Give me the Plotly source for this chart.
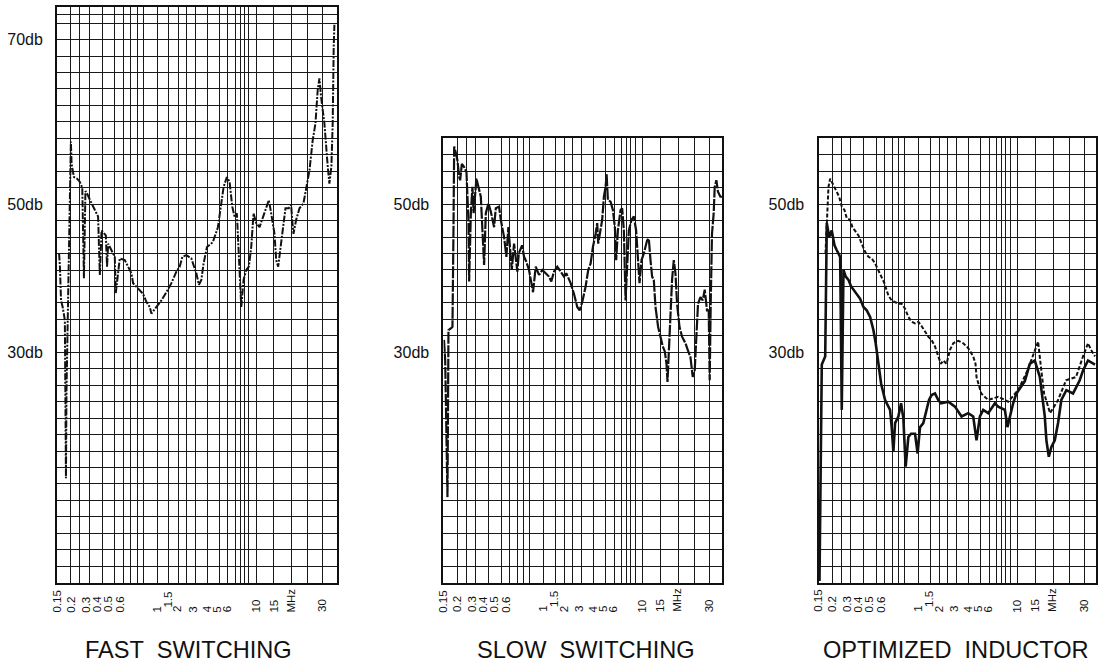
import numpy as np
import plotly.graph_objects as go

# ---------------- graph-paper frequency scale (MHz -> position) ----------------
KNOT_F = [0.15, 0.2, 0.25, 0.3, 0.4, 0.5, 0.6, 0.7, 0.8, 0.9, 1, 1.5, 2, 2.5, 3, 4, 5, 6,
          7, 8, 9, 9.5, 10, 15, 20, 25, 30, 35]
KNOT_POS = [0, 13.7, 22.7, 32, 45.4, 57.7, 66, 73.7, 80, 86, 100.4, 112, 121.7, 129.4, 138.4,
            150.4, 162.7, 171, 178.4, 183.4, 187.7, 192, 199.4, 217, 235, 251, 266, 280]


def to_pos(f):
    return np.interp(np.asarray(f, dtype=float), KNOT_F, KNOT_POS)


# ---------------- data (MHz, dB) ----------------
fast_f = [0.157, 0.160, 0.164, 0.170, 0.178, 0.182, 0.184, 0.190, 0.194, 0.199,
          0.200, 0.204, 0.217, 0.235, 0.250, 0.263, 0.272, 0.280, 0.289, 0.318,
          0.343, 0.367, 0.380, 0.393, 0.427, 0.437, 0.446, 0.459, 0.500, 0.512,
          0.560, 0.622, 0.665, 0.711, 0.737, 0.790, 0.900, 0.924, 0.947, 0.958,
          0.993, 1.172, 1.388, 1.624, 1.881, 2.065, 2.24, 2.5, 2.778, 3.083,
          3.3, 3.5, 3.69, 3.97, 4.455, 4.862, 5.205, 5.482, 5.88, 6.23,
          6.595, 6.905, 7.32, 7.72, 8.233, 8.767, 9.198, 9.5, 9.662, 9.818,
          10.0, 10.94, 12.36, 13.58, 14.26, 15.19, 15.67, 16.22, 16.78, 17.5,
          18.25, 19.17, 19.83, 20.13, 20.53, 21.38, 22.41, 23.66, 24.5, 25.57,
          26.67, 27.57, 28.33, 28.9, 29.47, 30.61, 31.79, 32.39, 33.11, 33.57,
          33.93, 34.18]
fast_db = [44.0, 42.4, 38.3, 37.5, 35.9, 16.7, 27.4, 37.6, 46.5, 55.3,
           57.6, 54.9, 53.3, 53.1, 52.7, 52.0, 41.0, 51.6, 51.3, 50.1,
           49.3, 48.5, 41.4, 46.8, 46.2, 42.4, 45.2, 44.8, 43.6, 39.2,
           43.4, 43.2, 42.4, 41.6, 40.4, 40.0, 39.1, 38.1, 37.5, 36.7,
           37.5, 38.3, 39.3, 40.4, 41.8, 42.4, 43.6, 43.8, 43.4, 41.6,
           40.2, 40.8, 42.8, 44.8, 45.4, 47.2, 50.1, 52.1, 53.3, 52.7,
           49.7, 48.5, 48.9, 44.0, 37.5, 40.8, 42.0, 42.4, 44.8, 48.9,
           47.7, 47.2, 48.9, 50.5, 48.9, 46.4, 43.2, 42.4, 44.4, 47.2,
           49.5, 49.5, 49.9, 48.1, 46.4, 48.1, 49.5, 50.1, 51.9, 54.1,
           57.8, 59.8, 63.9, 65.3, 63.0, 59.8, 54.6, 52.5, 54.6, 59.8,
           69.1, 71.8]

slow_f = [0.1518, 0.1562, 0.1646, 0.1682, 0.177, 0.1828, 0.1865, 0.1891, 0.1953, 0.2017,
          0.2111, 0.2167, 0.2261, 0.2389, 0.2516, 0.2624, 0.2661, 0.2753, 0.2839, 0.2903,
          0.3075, 0.3276, 0.3403, 0.3649, 0.3776, 0.397, 0.4163, 0.443, 0.4569, 0.4837,
          0.4976, 0.5361, 0.5639, 0.588, 0.6052, 0.6312, 0.661, 0.7048, 0.727, 0.7794,
          0.8117, 0.85, 0.895, 0.9167, 0.9257, 0.9444, 0.9674, 0.9903, 1.086, 1.228,
          1.328, 1.444, 1.603, 1.778, 1.949, 2.084, 2.370, 2.572, 2.756, 2.889,
          3.05, 3.333, 3.55, 3.75, 3.942, 4.163, 4.293, 4.374, 4.569, 4.699,
          4.837, 4.976, 5.084, 5.241, 5.566, 5.843, 6.095, 6.270, 6.5, 6.865,
          7.12, 7.46, 7.8, 8.14, 8.535, 9.081, 9.349, 9.568, 9.703, 9.797,
          9.932, 10.37, 11.31, 11.79, 12.27, 12.73, 13.21, 13.69, 14.43, 15.11,
          15.75, 16.31, 16.78, 17.06, 17.42, 17.89, 18.33, 18.81, 19.28, 19.72,
          20.44, 21.25, 22.31, 23.03, 23.88, 24.59, 25.23, 25.67, 26.33, 27.13,
          27.9, 28.57, 29.33, 29.9, 30.25, 30.61, 31.07, 31.68, 32.04, 32.64,
          33.21, 34.07, 34.64]
slow_db = [33.5, 31.0, 14.4, 34.7, 34.9, 35.1, 46.8, 57.0, 56.2, 55.3,
           53.3, 52.9, 54.9, 54.5, 53.9, 48.0, 40.6, 48.9, 52.1, 48.9,
           53.1, 51.7, 50.9, 42.6, 48.9, 50.1, 49.1, 47.2, 49.5, 49.7,
           48.1, 46.0, 43.6, 47.2, 45.2, 42.0, 45.2, 41.8, 44.0, 45.0,
           43.6, 43.0, 42.0, 40.0, 39.3, 42.4, 41.4, 42.0, 41.6, 41.2,
           40.6, 41.8, 42.4, 41.8, 41.2, 41.6, 40.4, 39.1, 37.5, 37.1,
           38.1, 40.0, 42.0, 42.8, 44.8, 46.4, 47.7, 45.2, 47.2, 48.1,
           50.9, 52.1, 53.7, 50.5, 50.3, 49.3, 47.2, 43.2, 46.8, 49.3,
           49.5, 46.8, 38.3, 42.8, 46.8, 48.1, 48.5, 46.8, 43.6, 40.4,
           43.2, 44.0, 45.6, 45.8, 43.2, 41.2, 40.8, 37.5, 35.1, 33.9,
           32.7, 32.1, 30.6, 28.4, 32.3, 36.3, 40.8, 43.2, 41.6, 37.9,
           35.1, 33.9, 33.1, 32.3, 31.4, 29.0, 29.8, 33.1, 37.9, 38.7,
           38.3, 39.6, 37.1, 37.1, 28.6, 37.9, 46.4, 48.9, 52.1, 52.9,
           51.5, 50.9, 50.9]

opt_a_f = [0.1755, 0.1803, 0.1865, 0.1927, 0.2072, 0.2256, 0.2389, 0.2532, 0.2677, 0.2801,
           0.2984, 0.3149, 0.3351, 0.3597, 0.3843, 0.4106, 0.4374, 0.4642, 0.4919, 0.5277,
           0.5675, 0.6, 0.6519, 0.6948, 0.7476, 0.8, 0.855, 0.9049, 0.9278, 0.9507,
           0.9743, 0.9972, 1.142, 1.289, 1.414, 1.567, 1.742, 1.912, 2.065, 2.214,
           2.429, 2.628, 2.811, 3.133, 3.55, 3.967, 4.374, 4.561, 4.642, 5.036,
           5.880, 7.32, 9.267, 10.17, 12.84, 15.0, 15.83, 16.67, 17.5, 19.17,
           21.56, 24.06, 27.33, 29.67, 31.43, 32.5, 33.93]
opt_a_db = [44.0, 48.5, 52.1, 53.1, 52.3, 51.5, 50.9, 49.7, 49.3, 48.3,
            48.1, 47.2, 46.8, 46.2, 45.2, 44.2, 43.6, 43.4, 42.8, 42.0,
            41.2, 40.4, 38.9, 38.3, 38.1, 37.9, 37.9, 37.3, 36.3, 35.7,
            35.5, 35.7, 35.1, 34.5, 33.9, 33.5, 32.7, 31.5, 30.6, 31.0,
            30.6, 32.3, 33.1, 33.4, 33.1, 32.5, 31.5, 30.6, 29.0, 27.0,
            26.2, 26.6, 26.0, 27.4, 29.8, 32.3, 33.3, 30.0, 27.0, 24.6,
            26.2, 28.6, 29.0, 31.5, 33.1, 32.3, 31.5]

opt_b_f = [0.1536, 0.1573, 0.1599, 0.162, 0.1682, 0.1745, 0.1803, 0.1891, 0.1985, 0.2128,
           0.2256, 0.2444, 0.2532, 0.2624, 0.2748, 0.2892, 0.3052, 0.3224, 0.347, 0.3724,
           0.397, 0.4236, 0.4512, 0.478, 0.4967, 0.5193, 0.5361, 0.5602, 0.6091, 0.674,
           0.6948, 0.7206, 0.7476, 0.8, 0.845, 0.8833, 0.909, 0.9278, 0.9465, 0.9743,
           0.9924, 1.056, 1.198, 1.341, 1.444, 1.567, 1.742, 1.912, 2.065, 2.533,
           2.906, 3.408, 3.967, 4.374, 4.642, 4.919, 5.277, 5.880, 6.770, 7.32,
           8.767, 9.186, 9.465, 9.703, 9.926, 12.07, 13.49, 14.91, 16.31, 17.69,
           18.14, 18.81, 19.53, 20.53, 21.56, 22.59, 24.16, 26.33, 28.57, 29.67,
           31.43, 33.93]
opt_b_db = [4.2, 14.0, 26.0, 30.5, 31.0, 31.5, 47.7, 46.0, 46.8, 45.0,
            44.4, 43.6, 25.0, 42.0, 41.2, 40.8, 40.0, 39.6, 39.1, 38.5,
            37.5, 37.1, 36.3, 34.7, 33.1, 31.4, 29.8, 28.2, 26.2, 25.0,
            22.9, 19.9, 23.4, 24.2, 25.8, 24.0, 18.1, 21.7, 22.1, 22.1,
            19.7, 22.9, 23.4, 25.0, 26.2, 26.8, 27.0, 26.2, 25.8, 26.0,
            25.4, 24.2, 24.6, 24.2, 21.3, 24.2, 25.0, 24.6, 25.8, 25.4,
            25.0, 22.9, 24.2, 25.8, 27.0, 28.5, 30.6, 31.0, 29.0, 24.2,
            21.3, 19.3, 20.5, 21.3, 23.4, 26.2, 27.4, 27.0, 28.6, 29.8,
            31.0, 30.5]

# tick labels of the frequency scale
freq_labels = ["0.15", "0.2", "0.3", "0.4", "0.5", "0.6", "1", "1.5", "2", "3", "4",
               "5", "6", "10", "15", "MHz", "30"]
panel_titles = ["FAST  SWITCHING", "SLOW  SWITCHING", "OPTIMIZED  INDUCTOR"]

# ---------------- layout constants ----------------
W, H = 1098, 661
LABEL_POS = [0, 14.2, 29.3, 39.3, 50.7, 63.0, 100.2, 111.3, 120.7, 136.5, 149.5,
             160.5, 170.0, 198.8, 217, 234.5, 265.5]
LABEL_RAISE = {"1.5": 5}
FONT = "Liberation Sans, Arial, sans-serif"
GRID = "#1a1a1a"

panels = [
    dict(x0=57.3, x1=337.3, top=6.7, yr=[4, 74.0], xr=[0, 280], title_x=189.3),
    dict(x0=444.3, x1=723.3, top=138.3, yr=[4, 58.0], xr=[0, 279], title_x=587.0),
    dict(x0=820.0, x1=1098.0, top=138.3, yr=[4, 58.0], xr=[0, 278], title_x=957.5),
]
BOTTOM = 582.7

fig = go.Figure()

traces = [
    (0, fast_f, fast_db, dict(color="#111", width=2.0, dash="7px,1.5px,2px,1.5px")),
    (1, slow_f, slow_db, dict(color="#111", width=2.2, dash="12px,1.5px")),
    (2, opt_a_f, opt_a_db, dict(color="#111", width=2.0, dash="4px,2px")),
    (2, opt_b_f, opt_b_db, dict(color="#111", width=2.6)),
]
for idx, f, db, ln in traces:
    suf = "" if idx == 0 else str(idx + 1)
    fig.add_trace(go.Scatter(x=to_pos(f), y=db, mode="lines", line=ln,
                             xaxis="x" + suf, yaxis="y" + suf,
                             showlegend=False, hoverinfo="skip"))

annotations = []
for i, p in enumerate(panels):
    suf = "" if i == 0 else str(i + 1)
    xdom = [p["x0"] / W, min(p["x1"] / W, 1.0)]
    ydom = [(H - BOTTOM) / H, (H - p["top"]) / H]
    top_db = p["yr"][1]
    minor_y = [v for v in range(4, 73, 2) if v < top_db - 0.5]
    if i == 0:
        minor_y.append(73.1)
    major_y = [v for v in [70, 50, 32] if v < top_db]
    major_txt = {70: "70db", 50: "50db", 32: "30db"}
    fig.layout["xaxis" + suf] = dict(
        domain=xdom, range=p["xr"], tickmode="array", tickvals=KNOT_POS,
        showticklabels=False, ticks="", showgrid=True, gridcolor=GRID, gridwidth=1.3,
        zeroline=False, showline=True, linecolor="#111", linewidth=2.2, mirror=True,
        anchor="y" + suf, fixedrange=True)
    fig.layout["yaxis" + suf] = dict(
        domain=ydom, range=p["yr"], tickmode="array", tickvals=major_y,
        ticktext=[major_txt[v] for v in major_y], ticks="", ticklabelstandoff=9,
        tickfont=dict(family=FONT, size=16, color="#111"),
        showgrid=True, gridcolor=GRID, gridwidth=1.3,
        minor=dict(tickvals=minor_y, showgrid=True, gridcolor=GRID, gridwidth=1.3, ticks=""),
        zeroline=False, showline=True, linecolor="#111", linewidth=2.2, mirror=True,
        anchor="x" + suf, fixedrange=True)
    for txt, pos in zip(freq_labels, LABEL_POS):
        if pos > p["xr"][1]:
            continue
        ybot = 613.3 - LABEL_RAISE.get(txt, 0)
        annotations.append(dict(
            x=pos, xref="x" + suf, y=(H - ybot) / H, yref="paper", text=txt,
            textangle=-90, showarrow=False, xanchor="center", yanchor="bottom",
            borderpad=0, font=dict(family=FONT, size=11.5, color="#111")))
    annotations.append(dict(
        x=p["title_x"] / W, xref="paper", y=(H - 649.5) / H, yref="paper",
        text=panel_titles[i], showarrow=False, xanchor="center", yanchor="middle",
        borderpad=0, font=dict(family=FONT, size=23.6, color="#111")))

fig.update_layout(
    width=W, height=H, autosize=False,
    margin=dict(l=0, r=0, t=0, b=0, pad=0),
    paper_bgcolor="white", plot_bgcolor="white",
    annotations=annotations, showlegend=False,
)

fig.write_html("out.html", config={"displayModeBar": False},
               post_script="document.body.style.margin='0';")
